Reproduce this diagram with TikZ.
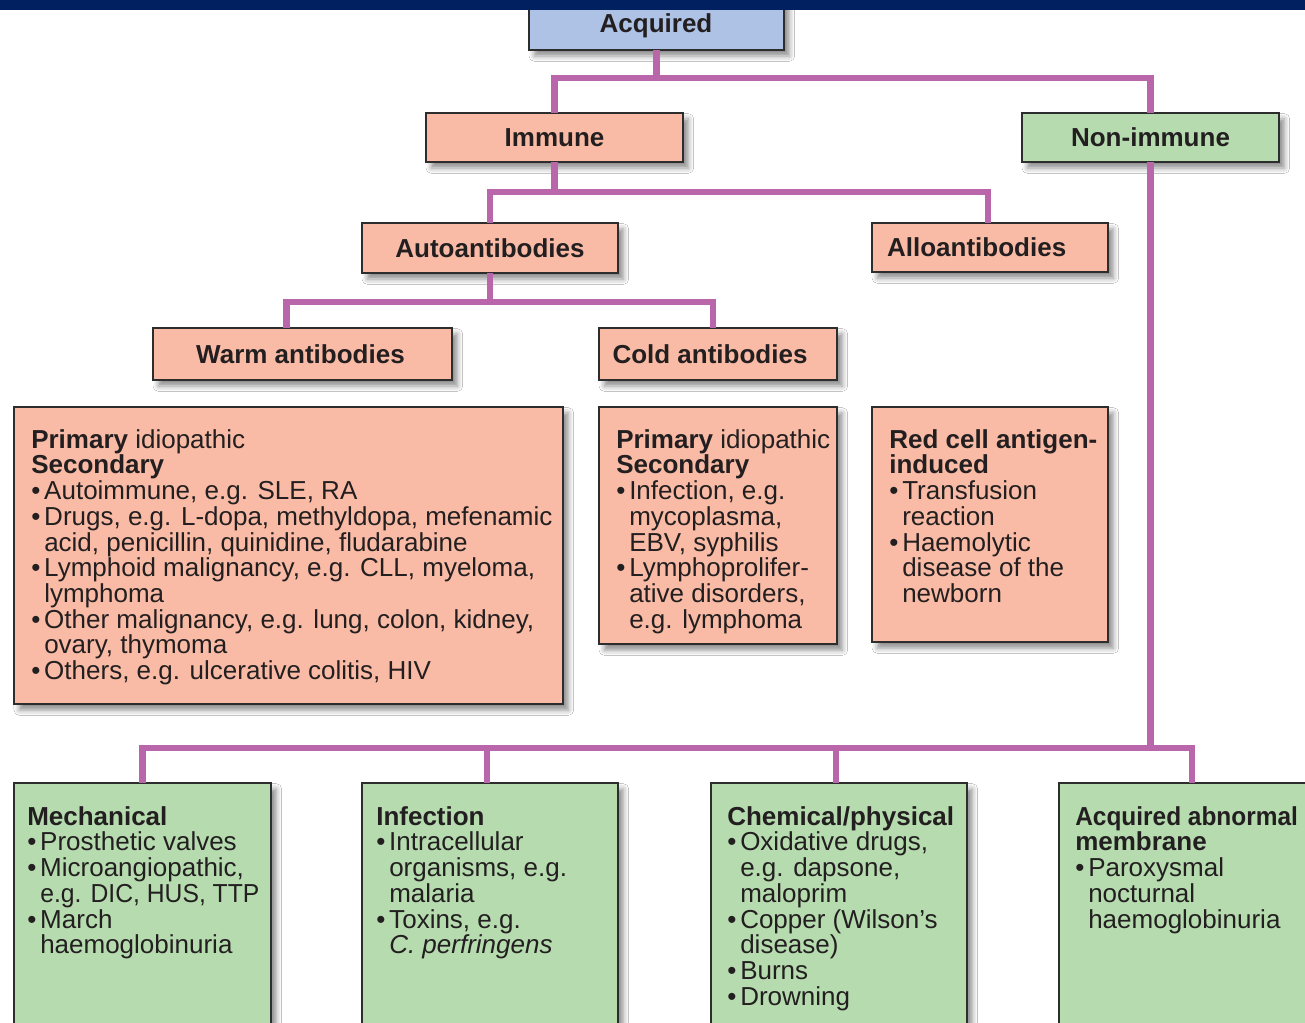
\documentclass[tikz,border=0pt]{standalone}
\usepackage{fontspec}
\setmainfont{Liberation Sans}
\usetikzlibrary{calc,shadows.blur}
\definecolor{navy}{RGB}{0,32,96}
\definecolor{salm}{RGB}{249,187,165}
\definecolor{grn}{RGB}{181,219,174}
\definecolor{lblue}{RGB}{174,194,230}
\definecolor{conc}{RGB}{185,102,170}
\definecolor{bordc}{RGB}{45,45,45}
\definecolor{txtc}{RGB}{35,31,32}
\newcommand\bu{\makebox[9.75pt][l]{\textbullet}}
\newcommand\ii{\hspace*{9.75pt}}
\newcommand\narrow[1]{{\addfontfeatures{FakeStretch=0.95}#1}}
\begin{document}
\begin{tikzpicture}[x=0.75pt,y=-0.75pt,
  font=\fontsize{19.5pt}{19.3pt}\selectfont,
  box/.style={draw=bordc, line width=1.1pt, rectangle, inner sep=0pt, outer sep=0pt,
    anchor=north west, text=txtc, font=\fontsize{19.5pt}{19.3pt}\selectfont\bfseries,
    blur shadow={shadow xshift=4pt, shadow yshift=-4.5pt, shadow blur radius=4pt, shadow opacity=45}},
  txt/.style={align=left, inner sep=0pt, anchor=north west, text=txtc},
  conn/.style={draw=conc, line width=4.8pt, line join=miter}]
\useasboundingbox (0,0) rectangle (1305,1023);
\clip (0,0) rectangle (1305,1023);
\fill[white] (0,0) rectangle (1305,1023);

% title boxes
\node[box, fill=lblue, minimum width={(784-529)*0.75pt}, minimum height={(50+2)*0.75pt}] (acq) at (529,-2) {};
\node[txtc, font=\fontsize{19.5pt}{19.3pt}\selectfont\bfseries] (acqt) at (656,26) {Acquired};
\node[box, fill=salm, minimum width={(683-426)*0.75pt}, minimum height={(162-113)*0.75pt}] (imm) at (426,113) {Immune};
\node[box, fill=grn, minimum width={(1279-1022)*0.75pt}, minimum height={(162-113)*0.75pt}] (non) at (1022,113) {Non-immune};
\node[box, fill=salm, minimum width={(618-362)*0.75pt}, minimum height={(273-223)*0.75pt}] (auto) at (362,223) {Autoantibodies};
\node[box, fill=salm, minimum width={(1108-872)*0.75pt}, minimum height={(272-223)*0.75pt}] (allo) at (872,223) {\hspace*{-20pt}Alloantibodies};
\node[box, fill=salm, minimum width={(452-153)*0.75pt}, minimum height={(380-328)*0.75pt}] (warm) at (153,328) {\hspace*{-3pt}Warm antibodies};
\node[box, fill=salm, minimum width={(837-599)*0.75pt}, minimum height={(380-328)*0.75pt}] (cold) at (599,328) {\hspace*{-12pt}Cold antibodies};

% content boxes
\node[box, fill=salm, minimum width={(563-14)*0.75pt}, minimum height={(704-407)*0.75pt}] (warmbox) at (14,407) {};
\node[box, fill=salm, minimum width={(837-599)*0.75pt}, minimum height={(644-407)*0.75pt}] (coldbox) at (599,407) {};
\node[box, fill=salm, minimum width={(1108-872)*0.75pt}, minimum height={(642-407)*0.75pt}] (allobox) at (872,407) {};
\node[box, fill=grn, minimum width={(271-14)*0.75pt}, minimum height={(1050-783)*0.75pt}] (mech) at (14,783) {};
\node[box, fill=grn, minimum width={(618-362)*0.75pt}, minimum height={(1050-783)*0.75pt}] (inf) at (362,783) {};
\node[box, fill=grn, minimum width={(967-711)*0.75pt}, minimum height={(1050-783)*0.75pt}] (chem) at (711,783) {};
\node[box, fill=grn, minimum width={(1330-1059)*0.75pt}, minimum height={(1050-783)*0.75pt}] (memb) at (1059,783) {};

% connectors
\draw[conn] (acq.south) -- ++(0,28) -| (imm.north);
\draw[conn] (acq.south) -- ++(0,28) -| (non.north);
\draw[conn] (imm.south) -- ++(0,30) -| (auto.north);
\draw[conn] (imm.south) -- ++(0,30) -| ($(allo.north)+(-2,0)$);
\draw[conn] (auto.south) -- ++(0,29) -| ($(warm.north)+(-16,0)$);
\draw[conn] (auto.south) -- ++(0,29) -| ($(cold.north)+(-5,0)$);
\draw[conn] ($(warm.south)+(-16,0)$) -- ($(warm.south)+(-16,0)$ |- warmbox.north);
\draw[conn] ($(cold.south)+(-5,0)$) -- ($(cold.south)+(-5,0)$ |- coldbox.north);
\draw[conn] ($(allo.south)+(-2,0)$) -- ($(allo.south)+(-2,0)$ |- allobox.north);
\draw[conn] (non.south) -- ($(non.south)+(0,586)$) -| (mech.north);
\draw[conn] ($(non.south)+(0,586)$) -| ($(inf.north)+(-3,0)$);
\draw[conn] ($(non.south)+(0,586)$) -| ($(chem.north)+(-3,0)$);
\draw[conn] ($(non.south)+(0,586)$) -| ($(memb.north)+(-2.5,0)$);

% top band
\fill[navy] (0,0) rectangle (1305,10.5);

% texts
\node[txt] (warmtxt) at (31,429) {\textbf{Primary} idiopathic\\
\textbf{Secondary}\\
\bu Autoimmune, e.g. SLE, RA\\
\bu Drugs, e.g. L-dopa, methyldopa, mefenamic\\
\ii acid, penicillin, quinidine, fludarabine\\
\bu Lymphoid malignancy, e.g. CLL, myeloma,\\
\ii lymphoma\\
\bu Other malignancy, e.g. lung, colon, kidney,\\
\ii ovary, thymoma\\
\bu Others, e.g. ulcerative colitis, HIV};

\node[txt] (coldtxt) at (616,429) {\textbf{Primary} idiopathic\\
\textbf{Secondary}\\
\bu Infection, e.g.\\
\ii mycoplasma,\\
\ii EBV, syphilis\\
\bu Lymphoprolifer-\\
\ii ative disorders,\\
\ii e.g. lymphoma};

\node[txt] (allotxt) at (889,429) {\textbf{Red cell antigen-}\\
\textbf{induced}\\
\bu Transfusion\\
\ii reaction\\
\bu Haemolytic\\
\ii disease of the\\
\ii newborn};

\node[txt] (mechtxt) at (27,806) {\textbf{Mechanical}\\
\bu Prosthetic valves\\
\bu Microangiopathic,\\
\ii \narrow{e.g. DIC, HUS, TTP}\\
\bu March\\
\ii haemoglobinuria};

\node[txt] (inftxt) at (376,806) {\textbf{Infection}\\
\bu Intracellular\\
\ii organisms, e.g.\\
\ii malaria\\
\bu Toxins, e.g.\\
\ii \textit{C. perfringens}};

\node[txt] (chemtxt) at (727,806) {\textbf{Chemical/physical}\\
\bu Oxidative drugs,\\
\ii e.g. dapsone,\\
\ii maloprim\\
\bu Copper (Wilson’s\\
\ii disease)\\
\bu Burns\\
\bu Drowning};

\node[txt] (membtxt) at (1075,806) {{\bfseries\addfontfeatures{FakeStretch=0.94}Acquired abnormal}\\
\textbf{membrane}\\
\bu Paroxysmal\\
\ii nocturnal\\
\ii haemoglobinuria};
\end{tikzpicture}
\end{document}
